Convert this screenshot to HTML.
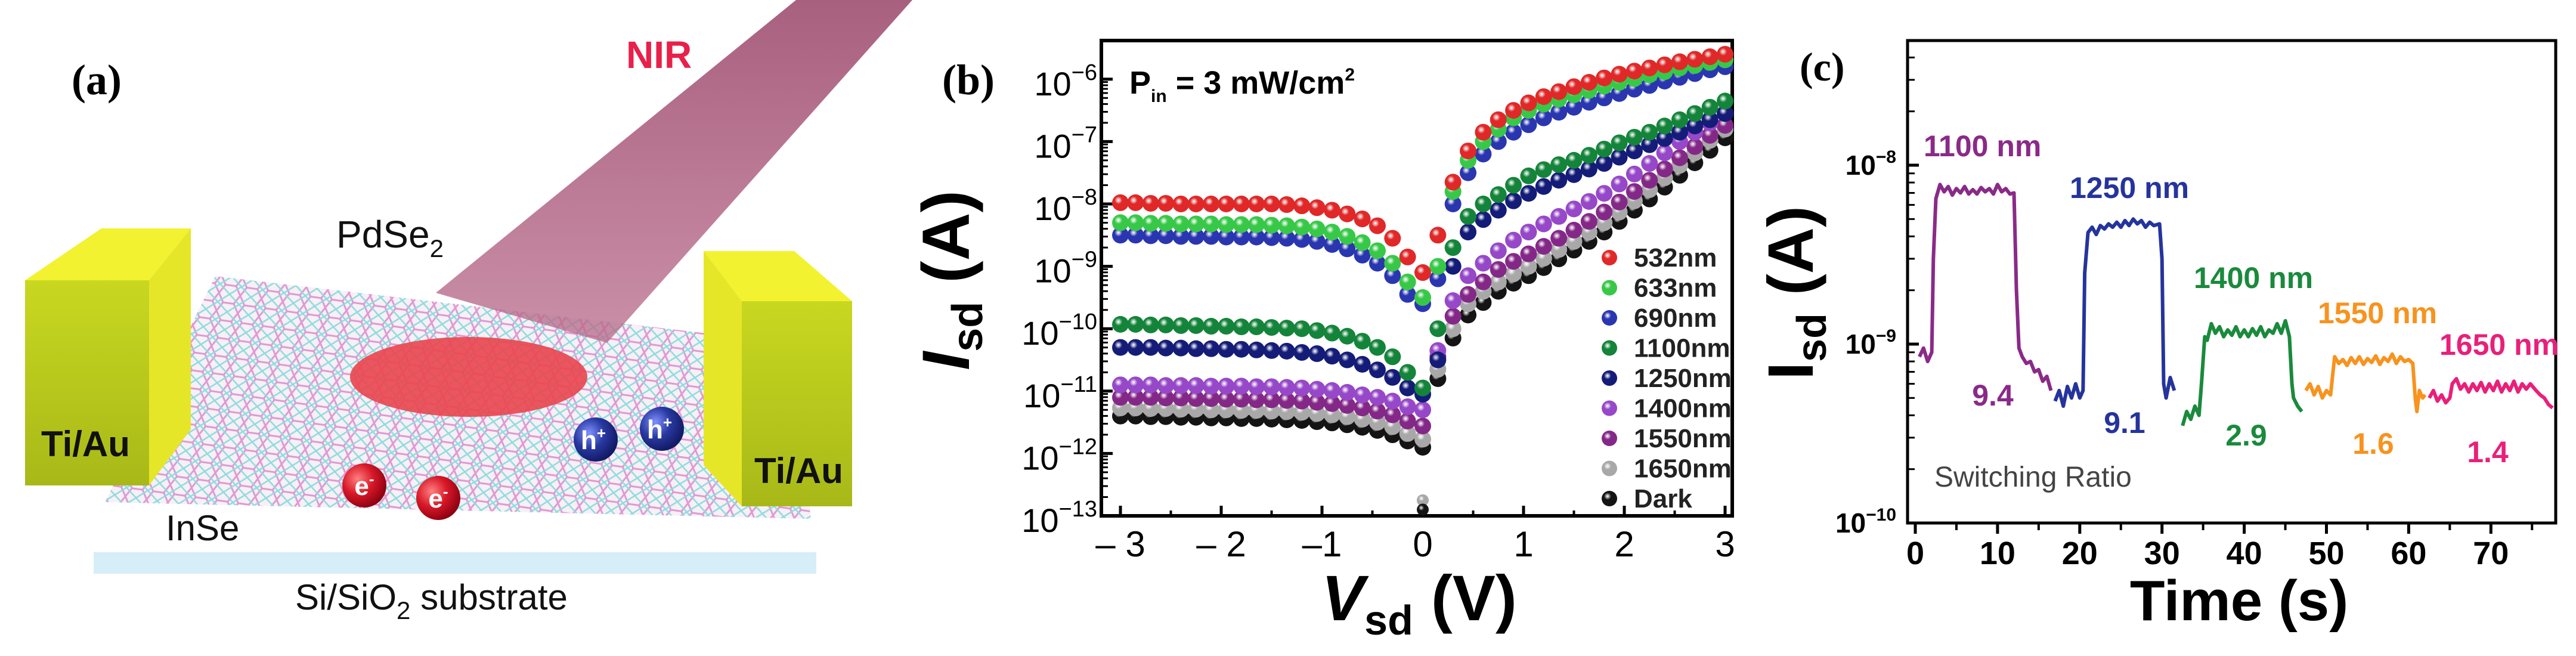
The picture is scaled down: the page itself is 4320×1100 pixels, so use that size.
<!DOCTYPE html>
<html><head><meta charset="utf-8"><style>
html,body{margin:0;padding:0;background:#fff;}
svg{display:block;font-family:"Liberation Sans",sans-serif;}
</style></head><body>
<svg id="fig" width="4320" height="1100" viewBox="0 0 4320 1100" xmlns="http://www.w3.org/2000/svg">
<defs>
<pattern id="lat" width="36" height="30" patternUnits="userSpaceOnUse" patternTransform="rotate(8)">
<rect width="36" height="30" fill="#f6eef4"/>
<path d="M0 15 L9 0 L27 0 L36 15 L27 30 L9 30 Z" fill="none" stroke="#d98fcf" stroke-width="3"/>
<path d="M0 0 L36 30 M36 0 L0 30" stroke="#7fd8dc" stroke-width="2.5"/>
</pattern>
<radialGradient id="ballR" cx="0.35" cy="0.35" r="0.7"><stop offset="0" stop-color="#ff8080"/><stop offset="0.5" stop-color="#d81828"/><stop offset="1" stop-color="#8a0010"/></radialGradient>
<radialGradient id="ballB" cx="0.35" cy="0.35" r="0.7"><stop offset="0" stop-color="#8090ff"/><stop offset="0.5" stop-color="#2838a0"/><stop offset="1" stop-color="#101860"/></radialGradient>
<linearGradient id="frontG" x1="0" y1="0" x2="0" y2="1"><stop offset="0" stop-color="#c8d820"/><stop offset="1" stop-color="#a8b818"/></linearGradient>
<linearGradient id="beamG" x1="0" y1="0" x2="0" y2="1"><stop offset="0" stop-color="#a8607f"/><stop offset="1" stop-color="#b86a8a" stop-opacity="0.75"/></linearGradient>
</defs>

<!-- ================= Panel (a) ================= -->
<g>
<rect x="157" y="926" width="1212" height="36" fill="#d6eef7"/>
<polygon points="361,463 1323,575 1360,870 176,842" fill="url(#lat)" opacity="0.9"/>
<polygon points="1335,0 1530,0 1018,575 731,491" fill="url(#beamG)"/>
<ellipse cx="786" cy="632" rx="199" ry="67" fill="#e84850" opacity="0.92"/>
<g>
<polygon points="42,470 170,383 320,383 250,470" fill="#f2f230"/>
<polygon points="250,470 320,383 320,720 250,814" fill="#e6e628"/>
<rect x="42" y="470" width="208" height="344" fill="url(#frontG)"/>
</g>
<g>
<polygon points="1180,421 1332,421 1429,505 1244,505" fill="#f2f230"/>
<polygon points="1180,421 1244,505 1244,849 1180,780" fill="#e6e628"/>
<rect x="1244" y="505" width="185" height="344" fill="url(#frontG)"/>
</g>
<circle cx="611" cy="814" r="37" fill="url(#ballR)"/>
<circle cx="735" cy="835" r="37" fill="url(#ballR)"/>
<circle cx="999" cy="737" r="37" fill="url(#ballB)"/>
<circle cx="1110" cy="719" r="37" fill="url(#ballB)"/>
<text x="611" y="830" font-size="44" font-weight="bold" fill="#fff" text-anchor="middle">e<tspan font-size="26" dy="-18">-</tspan></text>
<text x="735" y="851" font-size="44" font-weight="bold" fill="#fff" text-anchor="middle">e<tspan font-size="26" dy="-18">-</tspan></text>
<text x="995" y="753" font-size="44" font-weight="bold" fill="#fff" text-anchor="middle">h<tspan font-size="26" dy="-18">+</tspan></text>
<text x="1106" y="735" font-size="44" font-weight="bold" fill="#fff" text-anchor="middle">h<tspan font-size="26" dy="-18">+</tspan></text>
<text x="120" y="158" font-family="Liberation Serif,serif" font-weight="bold" font-size="72">(a)</text>
<text x="1050" y="114" font-size="64" font-weight="bold" fill="#e8204a">NIR</text>
<text x="564" y="415" font-size="64" fill="#111">PdSe<tspan font-size="42" dy="16">2</tspan></text>
<text x="69" y="765" font-size="60" font-weight="bold" fill="#111">Ti/Au</text>
<text x="1265" y="810" font-size="60" font-weight="bold" fill="#111">Ti/Au</text>
<text x="278" y="906" font-size="60" fill="#111">InSe</text>
<text x="495" y="1022" font-size="60" fill="#111">Si/SiO<tspan font-size="42" dy="16">2</tspan><tspan dy="-16"> substrate</tspan></text>
</g>

<!-- ================= Panel (b) ================= -->
<g id="panelB">
<rect x="1847" y="68" width="1058" height="797" fill="none" stroke="#000" stroke-width="6"/>
<text x="1580" y="158" font-family="Liberation Serif,serif" font-weight="bold" font-size="72">(b)</text>
<text x="1894" y="157" font-size="54" font-weight="bold">P<tspan font-size="30" dy="14">in</tspan><tspan dy="-14"> = 3 mW/cm</tspan><tspan font-size="30" dy="-22">2</tspan></text>
<text transform="translate(1625,470) rotate(-90)" font-size="112" font-weight="bold" text-anchor="middle"><tspan font-style="italic">I</tspan><tspan font-size="72" dy="22">sd</tspan><tspan dy="-22"> (A)</tspan></text>
<text x="2380" y="1040" font-size="108" font-weight="bold" text-anchor="middle"><tspan font-style="italic">V</tspan><tspan font-size="70" dy="24">sd</tspan><tspan dy="-24"> (V)</tspan></text>
<g id="bAxes"></g>
<g id="bData"></g>
<g id="bLegend"></g>
</g>

<!-- ================= Panel (c) ================= -->
<g id="panelC">
<rect x="3199" y="68" width="1087" height="809" fill="none" stroke="#000" stroke-width="5"/>
<text x="3018" y="135" font-family="Liberation Serif,serif" font-weight="bold" font-size="68">(c)</text>
<text transform="translate(3040,491) rotate(-90)" font-size="108" font-weight="bold" text-anchor="middle">I<tspan font-size="70" dy="22">sd</tspan><tspan dy="-22"> (A)</tspan></text>
<text x="3755" y="1040" font-size="96" font-weight="bold" text-anchor="middle">Time (s)</text>
<text x="3244" y="816" font-size="48" fill="#444">Switching Ratio</text>
<g id="cAxes"></g>
<g id="cData"></g>
</g>
</svg>
<script>
// ---------- Panel b data ----------
const bVoltages = [-3.00,-2.85,-2.70,-2.55,-2.40,-2.25,-2.10,-1.95,-1.80,-1.65,-1.50,-1.35,-1.20,-1.05,-0.90,-0.75,-0.60,-0.45,-0.30,-0.15,0.00,0.15,0.30,0.45,0.60,0.75,0.90,1.05,1.20,1.35,1.50,1.65,1.80,1.95,2.10,2.25,2.40,2.55,2.70,2.85,3.00];
const bSeriesNames = ["532nm","633nm","690nm","1100nm","1250nm","1400nm","1550nm","1650nm","Dark"];
const bLog532 = [-7.98,-7.98,-7.99,-7.99,-8.0,-8.0,-8.0,-8.0,-8.0,-8.0,-8.0,-8.01,-8.03,-8.06,-8.1,-8.16,-8.24,-8.35,-8.55,-8.85,-9.1,-8.5,-7.65,-7.15,-6.85,-6.65,-6.5,-6.38,-6.28,-6.2,-6.12,-6.05,-5.98,-5.92,-5.87,-5.82,-5.77,-5.72,-5.68,-5.64,-5.6];
const bLog633 = [-8.3,-8.3,-8.31,-8.31,-8.32,-8.32,-8.32,-8.33,-8.33,-8.33,-8.34,-8.35,-8.37,-8.4,-8.45,-8.52,-8.62,-8.75,-8.95,-9.25,-9.5,-9.0,-7.8,-7.3,-7.0,-6.8,-6.62,-6.5,-6.4,-6.32,-6.25,-6.18,-6.11,-6.05,-5.99,-5.93,-5.88,-5.82,-5.78,-5.73,-5.69];
const bLog690 = [-8.5,-8.5,-8.51,-8.51,-8.52,-8.52,-8.52,-8.53,-8.53,-8.53,-8.54,-8.55,-8.57,-8.6,-8.65,-8.72,-8.82,-8.95,-9.15,-9.45,-9.6,-9.2,-8.0,-7.5,-7.2,-7.0,-6.85,-6.73,-6.62,-6.53,-6.45,-6.37,-6.3,-6.23,-6.16,-6.1,-6.03,-5.97,-5.91,-5.85,-5.8];
const bLog1100 = [-9.93,-9.93,-9.94,-9.94,-9.95,-9.95,-9.96,-9.96,-9.97,-9.97,-9.98,-9.99,-10.0,-10.03,-10.07,-10.12,-10.2,-10.3,-10.45,-10.7,-10.95,-10.0,-8.7,-8.2,-8.0,-7.85,-7.7,-7.55,-7.45,-7.37,-7.3,-7.22,-7.12,-7.02,-6.93,-6.85,-6.75,-6.65,-6.55,-6.45,-6.35];
const bLog1250 = [-10.3,-10.3,-10.3,-10.31,-10.31,-10.32,-10.32,-10.33,-10.33,-10.34,-10.35,-10.36,-10.38,-10.4,-10.44,-10.5,-10.57,-10.66,-10.78,-10.95,-11.05,-10.5,-9.0,-8.45,-8.25,-8.1,-7.95,-7.83,-7.72,-7.62,-7.53,-7.44,-7.35,-7.25,-7.15,-7.05,-6.95,-6.85,-6.75,-6.65,-6.55];
const bLog1400 = [-10.9,-10.9,-10.9,-10.91,-10.91,-10.91,-10.92,-10.92,-10.92,-10.93,-10.93,-10.94,-10.95,-10.97,-10.99,-11.02,-11.06,-11.1,-11.16,-11.25,-11.3,-10.35,-9.55,-9.15,-8.95,-8.75,-8.58,-8.45,-8.32,-8.2,-8.08,-7.96,-7.83,-7.68,-7.52,-7.35,-7.18,-7.0,-6.85,-6.7,-6.55];
const bLog1550 = [-11.1,-11.1,-11.1,-11.11,-11.11,-11.12,-11.12,-11.13,-11.13,-11.14,-11.14,-11.15,-11.16,-11.18,-11.2,-11.23,-11.27,-11.32,-11.38,-11.48,-11.56,-10.45,-9.8,-9.45,-9.25,-9.05,-8.92,-8.8,-8.68,-8.55,-8.42,-8.28,-8.13,-7.97,-7.8,-7.62,-7.44,-7.26,-7.08,-6.9,-6.74];
const bLog1650 = [-11.27,-11.27,-11.28,-11.28,-11.29,-11.29,-11.3,-11.3,-11.31,-11.31,-11.32,-11.33,-11.34,-11.36,-11.38,-11.41,-11.45,-11.5,-11.57,-11.68,-11.77,-10.65,-10.0,-9.6,-9.4,-9.25,-9.12,-9.0,-8.87,-8.73,-8.6,-8.45,-8.3,-8.13,-7.95,-7.77,-7.58,-7.38,-7.18,-6.98,-6.8];
const bLogDark = [-11.4,-11.4,-11.41,-11.41,-11.42,-11.42,-11.43,-11.43,-11.44,-11.44,-11.45,-11.46,-11.47,-11.49,-11.51,-11.54,-11.58,-11.63,-11.7,-11.8,-11.9,-10.8,-10.15,-9.78,-9.58,-9.4,-9.27,-9.15,-9.02,-8.88,-8.74,-8.6,-8.45,-8.28,-8.1,-7.92,-7.73,-7.54,-7.34,-7.14,-6.94];
const bOutlierV = [0.0, 0.0];
const bOutlierLog = [-12.75, -12.9];
const bXTicks = [-3,-2,-1,0,1,2,3];
const bXTickLabels = ["\u2013 3","\u2013 2","\u20131","0","1","2","3"];
const bYTicks = [-13,-12,-11,-10,-9,-8,-7,-6];

// ---------- Panel c data ----------
const cTrace1100 = [[0.5,.85],[1,.95],[1.5,.8],[2,.9],[2.2,3.0],[2.5,6.5],[3,7.8],[3.5,7.1],[4,7.6],[4.5,6.8],[5,7.4],[5.5,7.0],[6,7.6],[6.5,6.9],[7,7.3],[7.5,6.9],[8,7.5],[8.5,7.1],[9,7.4],[9.5,6.9],[10,7.8],[10.5,7.1],[11,7.4],[11.5,6.9],[12,7.0],[12.3,2.0],[12.6,0.95],[13,0.85],[13.5,0.78],[14,0.8],[14.5,0.7],[15,0.72],[15.5,0.62],[16,0.66],[16.5,0.55]];
const cTrace1250 = [[17,.48],[17.5,.55],[18,.45],[18.5,.58],[19,.5],[19.5,.6],[20,.5],[20.4,.55],[20.6,2.5],[21,4.2],[21.5,4.5],[22,4.1],[22.5,4.6],[23,4.4],[23.5,4.7],[24,4.5],[24.5,4.8],[25,4.5],[25.5,4.9],[26,4.6],[26.5,5.0],[27,4.7],[27.5,4.9],[28,4.5],[28.5,4.8],[29,4.6],[29.7,4.7],[30,3.0],[30.2,0.6],[30.5,0.5],[31,0.65],[31.5,0.55]];
const cTrace1400 = [[32.5,.35],[33,.42],[33.5,.38],[34,.45],[34.5,.4],[34.8,.6],[35.2,1.1],[35.5,1.05],[36,1.3],[36.5,1.15],[37,1.25],[37.5,1.1],[38,1.2],[38.5,1.12],[39,1.25],[39.5,1.1],[40,1.2],[40.5,1.1],[41,1.22],[41.5,1.12],[42,1.25],[42.5,1.1],[43,1.2],[43.5,1.15],[44,1.3],[44.5,1.15],[45,1.35],[45.5,1.1],[45.8,0.6],[46,0.5],[46.5,0.45],[47,0.42]];
const cTrace1550 = [[47.5,.55],[48,.6],[48.5,.52],[49,.58],[49.5,.5],[50,.55],[50.5,.52],[50.8,.7],[51,.85],[51.5,.78],[52,.82],[52.5,.76],[53,.84],[53.5,.78],[54,.85],[54.5,.77],[55,.83],[55.5,.79],[56,.86],[56.5,.77],[57,.84],[57.5,.8],[58,.88],[58.5,.78],[59,.85],[59.5,.8],[60,.82],[60.5,.78],[60.8,.5],[61,.42],[61.3,.55],[61.7,.5],[62,.52]];
const cTrace1650 = [[62.5,.5],[63,.55],[63.5,.48],[64,.52],[64.5,.47],[65,.5],[65.3,.6],[65.8,.64],[66.3,.56],[66.8,.6],[67.3,.54],[67.8,.6],[68.3,.55],[68.8,.61],[69.3,.54],[69.8,.6],[70.3,.55],[70.8,.62],[71.3,.54],[71.8,.6],[72.3,.55],[72.8,.62],[73.3,.54],[73.8,.6],[74.3,.56],[74.8,.6],[75.5,.55],[76,.52],[76.5,.5],[77,.46],[77.5,.44]];
const cWavelengthLabels = ["1100 nm","1250 nm","1400 nm","1550 nm","1650 nm"];
const cRatioLabels = ["9.4","9.1","2.9","1.6","1.4"];
const cXTicks = [0,10,20,30,40,50,60,70];
const cYTicks = [-10,-9,-8];

const NS = "http://www.w3.org/2000/svg";
function mk(tag, attrs, parent){ const e=document.createElementNS(NS,tag); for(const k in attrs) e.setAttribute(k,attrs[k]); parent.appendChild(e); return e; }

// ---------- Panel b axes ----------
const bx = v => 1879 + (v + 3) * 169;
const by = l => 865 - (l + 13) * 104.6;
const bAx = document.getElementById("bAxes");
bXTicks.forEach((v,i)=>{
  const t = mk("line",{x1:bx(v),x2:bx(v),y1:865,y2:848,stroke:"#000","stroke-width":5},bAx);
  
  
  const h = mk("line",{x1:bx(v+0.5),x2:bx(v+0.5),y1:865,y2:856,stroke:"#000","stroke-width":4},bAx);
  if(v===3) h.remove();
  const lb = mk("text",{x:bx(v),y:933,"font-size":60,"text-anchor":"middle"},bAx);
  lb.textContent = bXTickLabels[i];
  
  
});
bYTicks.forEach(l=>{
  const t = mk("line",{x1:1847,x2:1866,y1:by(l),y2:by(l),stroke:"#000","stroke-width":5},bAx);
  
  
  if(l<-6){ for(let m=2;m<10;m++){ const yy=by(l+Math.log10(m)); mk("line",{x1:1847,x2:1858,y1:yy,y2:yy,stroke:"#000","stroke-width":3},bAx);} }
  const lb = mk("text",{x:1840,y:by(l)+27,"font-size":56,"text-anchor":"end"},bAx);
  
  
  const s1 = mk("tspan",{},lb); s1.textContent="10";
  const s2 = mk("tspan",{"font-size":38,dy:-26},lb); s2.textContent="\u2212"+Math.abs(l);
});

// ---------- Panel b data ----------
const bColors = ["#e02828","#38c848","#2a36b0","#14843a","#141c78","#9648c8","#842888","#a8a8a8","#141414"];
const bSeries = [bLog532,bLog633,bLog690,bLog1100,bLog1250,bLog1400,bLog1550,bLog1650,bLogDark];
const defs = document.querySelector("defs");
bColors.forEach((c,i)=>{
  const g = mk("radialGradient",{id:"dot"+i,cx:0.38,cy:0.35,r:0.65},defs);
  mk("stop",{offset:0,"stop-color":"#ffffff","stop-opacity":0.85},g);
  mk("stop",{offset:0.35,"stop-color":c},g);
  mk("stop",{offset:1,"stop-color":c},g);
});
const bD = document.getElementById("bData");
for(let s=bSeries.length-1;s>=0;s--){
  const g = mk("g",{},bD);
  
  
  bSeries[s].forEach((l,i)=>{
    const c = mk("circle",{cx:bx(bVoltages[i]),cy:by(l),r:14,fill:"url(#dot"+s+")"},g);
    
    
  });
}
bOutlierV.forEach((v,i)=>{
  const c = mk("circle",{cx:bx(v),cy:by(bOutlierLog[i]),r:10,fill:"url(#dot"+(i?8:7)+")"},bD);
  
  
});
// legend
const bL = document.getElementById("bLegend");
bSeriesNames.forEach((n,i)=>{
  const y = 432 + i*50.5;
  const g = mk("g",{},bL);
  
  
  mk("circle",{cx:2699,cy:y,r:13,fill:"url(#dot"+i+")"},g);
  const t = mk("text",{x:2740,y:y+15,"font-size":44,"font-weight":"bold",fill:"#222"},g);
  t.textContent = n;
});

// ---------- Panel c axes ----------
const cx = t => 3212 + t * 13.79;
const cy = l => 877 - (l + 10) * 300;
const cAx = document.getElementById("cAxes");
cXTicks.forEach(t=>{
  const k = mk("line",{x1:cx(t),x2:cx(t),y1:877,y2:895,stroke:"#000","stroke-width":5},cAx);
  
  
  mk("line",{x1:cx(t+5),x2:cx(t+5),y1:877,y2:889,stroke:"#000","stroke-width":4},cAx);
  const lb = mk("text",{x:cx(t),y:946,"font-size":54,"font-weight":"bold","text-anchor":"middle"},cAx);
  lb.textContent = String(t);
  
  
});
cYTicks.forEach(l=>{
  const k = mk("line",{x1:3199,x2:3218,y1:cy(l),y2:cy(l),stroke:"#000","stroke-width":5},cAx);
  
  
  for(let m=2;m<10;m++){ const yy=cy(l+Math.log10(m)); if(yy>70) mk("line",{x1:3199,x2:3211,y1:yy,y2:yy,stroke:"#000","stroke-width":3},cAx); }
  const lb = mk("text",{x:3180,y:cy(l)+16,"font-size":46,"font-weight":"bold","text-anchor":"end"},cAx);
  
  
  const s1 = mk("tspan",{},lb); s1.textContent="10";
  const s2 = mk("tspan",{"font-size":30,dy:-20},lb); s2.textContent="\u2212"+Math.abs(l);
});

// ---------- Panel c traces ----------
const cTraces = [cTrace1100,cTrace1250,cTrace1400,cTrace1550,cTrace1650];
const cColors = ["#8a2a88","#25349c","#1a8a3c","#f7931e","#e8207a"];
const cLabelPos = [[3226,262],[3471,332],[3679,483],[3887,542],[4091,595]];
const cRatioPos = [[3342,680],[3563,726],[3767,747],[3980,761],[4172,775]];
const cD = document.getElementById("cData");
cTraces.forEach((tr,i)=>{
  const d = tr.map((p,j)=>(j?"L":"M")+cx(p[0]).toFixed(1)+" "+cy(Math.log10(p[1]*1e-9)).toFixed(1)).join(" ");
  const p = mk("path",{d:d,fill:"none",stroke:cColors[i],"stroke-width":6,"stroke-linejoin":"round"},cD);
  
  
  const t = mk("text",{x:cLabelPos[i][0],y:cLabelPos[i][1],"font-size":50,"font-weight":"bold",fill:cColors[i]},cD);
  t.textContent = cWavelengthLabels[i];
  
  
  const r = mk("text",{x:cRatioPos[i][0],y:cRatioPos[i][1],"font-size":50,"font-weight":"bold",fill:cColors[i],"text-anchor":"middle"},cD);
  r.textContent = cRatioLabels[i];
  
  
});
</script>
</body></html>
